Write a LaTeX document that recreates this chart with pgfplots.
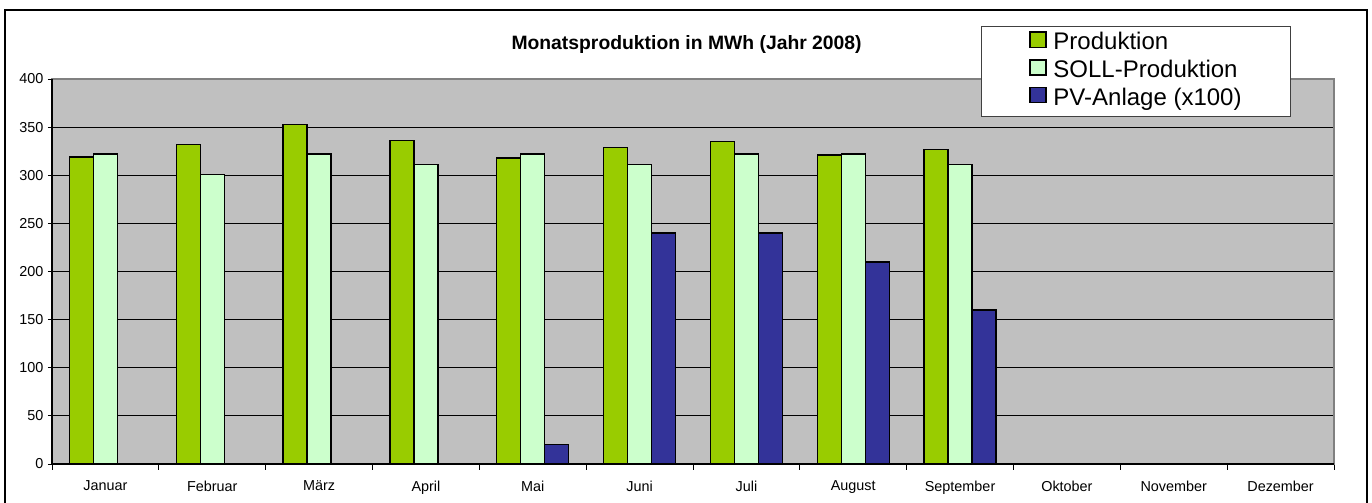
\documentclass[border=0pt]{standalone}
\usepackage{fontspec}
\setmainfont{Liberation Sans}
\usepackage{pgfplots}
\pgfplotsset{compat=1.18}
\definecolor{prod}{HTML}{99CC00}
\definecolor{soll}{HTML}{CCFFCC}
\definecolor{pv}{HTML}{333399}
\definecolor{bg}{HTML}{C0C0C0}
\definecolor{frm}{HTML}{808080}
\begin{document}
\begin{tikzpicture}
\useasboundingbox (-39pt,-29.25pt) rectangle (990pt,348pt);
\draw[black, line width=0.8pt] (-35.25pt,-32pt) rectangle (986.25pt,340.5pt);
\begin{axis}[
  at={(0pt,0pt)}, anchor=south west,
  width=961.5pt, height=288.75pt, scale only axis,
  xmin=-0.5, xmax=11.5, ymin=0, ymax=400,
  ybar=0pt, bar width=18pt,
  xtick={0,...,11},
  xticklabels={Januar,Februar,März,April,Mai,Juni,Juli,August,September,Oktober,November,Dezember},
  minor xtick={-0.5,0.5,...,11.5},
  tick pos=left,
  major x tick style={draw=none},
  minor x tick style={black, line width=0.6pt},
  minor tick length=4.5pt,
  major tick length=3pt,
  tick align=outside,
  ytick={0,50,...,400},
  y tick style={black, line width=0.6pt},
  ymajorgrids, grid style={black, line width=0.6pt},
  xticklabel style={yshift=-6pt},
  tick label style={font=\fontsize{10.8}{12}\selectfont},
  /pgf/number format/assume math mode=true,
  axis background/.style={fill=bg},
  axis line style={draw=frm, line width=0.9pt},
  title={Monatsproduktion in MWh (Jahr 2008)},
  title style={at={(0.495,1)}, anchor=center, yshift=19.5pt, font=\bfseries\fontsize{14.5}{16}\selectfont},
  legend image code/.code={\draw[#1, line width=1pt] (0pt,-2.7pt) rectangle (12pt,8.6pt);},
  legend cell align=left,
  legend style={at={(0.7246,1.1377)}, anchor=north west, draw=black!75, fill=white, line width=0.8pt,
    font=\fontsize{18}{20}\selectfont, inner xsep=36pt, inner ysep=2.5pt, column sep=4pt, row sep=0.2pt,
    nodes={inner xsep=1pt, inner ysep=1.8pt, text height=13pt, text depth=4pt}},
]
\addplot[fill=prod, draw=black, line width=1.1pt] coordinates {
  (0,319) (1,332) (2,353) (3,336) (4,318) (5,329) (6,335) (7,321) (8,327)};
\addplot[fill=soll, draw=black, line width=1.1pt] coordinates {
  (0,322) (1,301) (2,322) (3,311) (4,322) (5,311) (6,322) (7,322) (8,311)};
\addplot[fill=pv, draw=black, line width=1.1pt] coordinates {
  (4,20) (5,240) (6,240) (7,210) (8,160)};
\legend{Produktion, SOLL-Produktion, PV-Anlage (x100)}
\end{axis}
\draw[black, line width=0.9pt] (0pt,288.75pt) -- (0pt,0pt) -- (961.5pt,0pt);
\end{tikzpicture}
\end{document}
